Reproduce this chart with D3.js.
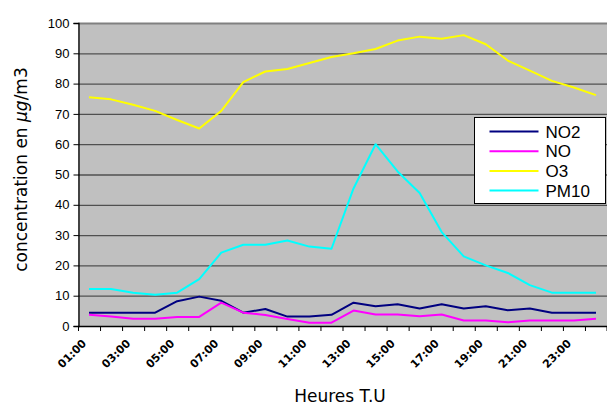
<!DOCTYPE html>
<html>
<head>
<meta charset="utf-8">
<script src="https://cdn.jsdelivr.net/npm/d3@7"></script>
<style>
  body { margin: 0; background: #fff; }
  svg { display: block; }
  .tick-y { font-family: "Liberation Sans", Arial, sans-serif; font-size: 13px; }
  .tick-x { font-family: "Comic Sans MS", "DejaVu Sans", sans-serif; font-size: 11px; font-weight: bold; }
  .title { font-family: "Comic Sans MS", "DejaVu Sans", sans-serif; font-size: 17px; }
  .legend-text { font-family: "Liberation Sans", Arial, sans-serif; font-size: 17px; }
</style>
</head>
<body>
<svg width="607" height="407"></svg>
<script>
(function () {
  'use strict';

  const hours = ["01:00","02:00","03:00","04:00","05:00","06:00","07:00","08:00","09:00","10:00","11:00","12:00",
                 "13:00","14:00","15:00","16:00","17:00","18:00","19:00","20:00","21:00","22:00","23:00","24:00"];
  const seriesNames = ["NO2", "NO", "O3", "PM10"];
  const no2  = [4.4, 4.4, 4.4, 4.4, 8.2, 9.7, 8.3, 4.4, 5.6, 3.1, 3.1, 3.7, 7.7, 6.5, 7.2, 5.8, 7.2, 5.8, 6.5, 5.2, 5.8, 4.4, 4.4, 4.4];
  const no   = [3.7, 3.1, 2.4, 2.4, 3.0, 3.0, 7.7, 4.4, 3.6, 2.3, 1.1, 1.1, 5.1, 3.8, 3.8, 3.2, 3.8, 1.8, 1.8, 1.2, 1.8, 1.8, 1.8, 2.4];
  const o3   = [75.5, 74.8, 73, 71, 68, 65.2, 71, 80.5, 84, 84.8, 86.8, 88.8, 90, 91.4, 94.2, 95.5, 94.8, 96, 93, 87.6, 84.3, 80.9, 78.7, 76.2];
  const pm10 = [12.2, 12.2, 11, 10.3, 11, 15.5, 24.2, 26.8, 26.8, 28.2, 26.2, 25.5, 45.4, 60, 51, 43.9, 31, 23, 20, 17.5, 13.5, 11, 11, 11];
  const yTicks = [0, 10, 20, 30, 40, 50, 60, 70, 80, 90, 100];

  const colors = ["#000080", "#ff00ff", "#ffff00", "#00ffff"];
  const series = [no2, no, o3, pm10];

  const svg = d3.select('svg');
  const left = 78, right = 607, top = 23, bottom = 326;

  const x = d3.scaleBand().domain(hours).range([left, right]).padding(0);
  const y = d3.scaleLinear().domain([0, 100]).range([bottom, top]);

  // plot background
  svg.append('rect')
    .attr('x', left).attr('y', top)
    .attr('width', right - left).attr('height', bottom - top)
    .attr('fill', '#c0c0c0');

  // gridlines
  svg.append('g')
    .selectAll('line')
    .data(yTicks.filter(d => d > 0))
    .enter().append('line')
    .attr('x1', left).attr('x2', right)
    .attr('y1', d => y(d) + 0.5).attr('y2', d => y(d) + 0.5)
    .attr('stroke', d => d === 100 ? '#808080' : '#505050')
    .attr('stroke-width', d => d === 100 ? 2 : 1.3);

  // y axis
  const yAxis = svg.append('g')
    .attr('transform', `translate(${left + 0.5},0)`)
    .call(d3.axisLeft(y).tickValues(yTicks).tickSize(5).tickPadding(4));
  yAxis.select('.domain').attr('stroke', '#000').attr('stroke-width', 1.3);
  yAxis.selectAll('.tick line').attr('stroke', '#000');
  yAxis.selectAll('text').attr('class', 'tick-y').attr('fill', '#000')
    .attr('font-family', null).attr('font-size', null);

  // x axis: ticks between categories
  const xg = svg.append('g');
  xg.append('line')
    .attr('x1', left).attr('x2', right)
    .attr('y1', bottom + 0.5).attr('y2', bottom + 0.5)
    .attr('stroke', '#000').attr('stroke-width', 1.3);
  xg.selectAll('line.tk')
    .data(hours.map((h, i) => x(h)).concat([right - 0.5]))
    .enter().append('line')
    .attr('class', 'tk')
    .attr('x1', d => d + 0.5).attr('x2', d => d + 0.5)
    .attr('y1', bottom).attr('y2', bottom + 5)
    .attr('stroke', '#000');

  xg.selectAll('text')
    .data(hours.filter((h, i) => i % 2 === 0))
    .enter().append('text')
    .attr('class', 'tick-x')
    .attr('text-anchor', 'end')
    .attr('transform', d => `translate(${x(d) + x.bandwidth() / 2 - 2},${bottom + 18}) rotate(-45)`)
    .text(d => d);

  // lines
  const line = d3.line()
    .x((d, i) => x(hours[i]) + x.bandwidth() / 2)
    .y(d => y(d));

  svg.append('g')
    .selectAll('path')
    .data(series)
    .enter().append('path')
    .attr('d', line)
    .attr('fill', 'none')
    .attr('stroke', (d, i) => colors[i])
    .attr('stroke-width', 2)
    .attr('stroke-linejoin', 'round');

  // axis titles
  svg.append('text')
    .attr('class', 'title')
    .attr('text-anchor', 'middle')
    .attr('transform', `translate(27,${(top + bottom) / 2 - 5}) rotate(-90)`)
    .html('concentration en <tspan font-style="italic">µg</tspan>/m3');

  svg.append('text')
    .attr('class', 'title')
    .attr('text-anchor', 'middle')
    .attr('x', 340).attr('y', 402)
    .text('Heures T.U');

  // legend
  const lg = svg.append('g').attr('transform', 'translate(474.5,117.5)');
  lg.append('rect')
    .attr('width', 131).attr('height', 86)
    .attr('fill', '#fff').attr('stroke', '#000');
  const items = lg.selectAll('g.item')
    .data(seriesNames)
    .enter().append('g')
    .attr('class', 'item')
    .attr('transform', (d, i) => `translate(0,${14 + i * 19.7})`);
  items.append('line')
    .attr('x1', 15).attr('x2', 64)
    .attr('stroke', (d, i) => colors[i]).attr('stroke-width', 2);
  items.append('text')
    .attr('class', 'legend-text')
    .attr('x', 71).attr('dy', '0.36em')
    .text(d => d);
}());
</script>
</body>
</html>
